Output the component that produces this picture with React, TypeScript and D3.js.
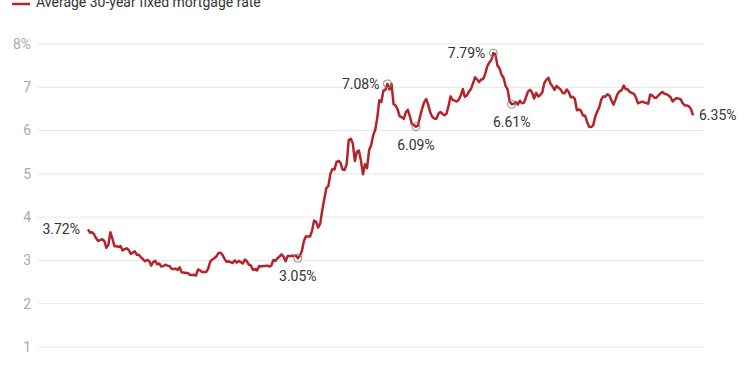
import React, { Component } from "react";
import * as d3 from "d3";

// weekly Freddie Mac averages, first reading Thursday Jan 2 2020
const startWeek = "2020-01-02";

const rates2020 = [
  3.72, 3.64, 3.65, 3.6, 3.51, 3.45, 3.47, 3.49, 3.45, 3.29, 3.36, 3.65, 3.5,
  3.33, 3.33, 3.31, 3.33, 3.23, 3.26, 3.28, 3.24, 3.15, 3.18, 3.21, 3.13, 3.13,
  3.07, 3.03, 2.98, 3.01, 2.99, 2.88, 2.96, 2.99, 2.91, 2.93, 2.86, 2.87, 2.9,
  2.88, 2.87, 2.81, 2.8, 2.81, 2.78, 2.84, 2.72, 2.72, 2.71, 2.71, 2.67, 2.66,
  2.67,
];
const rates2021 = [
  2.65, 2.79, 2.77, 2.73, 2.73, 2.73, 2.81, 2.97, 3.02, 3.05, 3.09, 3.17, 3.18,
  3.13, 3.04, 2.97, 2.98, 2.96, 2.94, 3.0, 2.95, 2.99, 2.96, 2.93, 3.02, 2.98,
  2.9, 2.88, 2.78, 2.8, 2.77, 2.87, 2.86, 2.87, 2.87, 2.88, 2.86, 2.88, 3.01,
  2.99, 3.05, 3.09, 3.14, 3.09, 2.98, 3.1, 3.1, 3.11, 3.1, 3.12, 3.05, 3.11,
];
const rates2022 = [
  3.22, 3.45, 3.56, 3.55, 3.55, 3.69, 3.92, 3.89, 3.76, 3.85, 4.16, 4.42, 4.67,
  4.72, 5.0, 5.11, 5.1, 5.27, 5.3, 5.25, 5.1, 5.09, 5.23, 5.78, 5.81, 5.7, 5.3,
  5.51, 5.54, 5.3, 4.99, 5.22, 5.13, 5.55, 5.66, 5.89, 6.02, 6.29, 6.7, 6.66,
  6.92, 6.94, 7.08, 6.95, 7.08, 6.61, 6.58, 6.49, 6.33, 6.31, 6.27, 6.42,
];
const rates2023 = [
  6.48, 6.33, 6.15, 6.13, 6.09, 6.12, 6.32, 6.5, 6.65, 6.73, 6.6, 6.42, 6.32,
  6.28, 6.27, 6.39, 6.43, 6.39, 6.35, 6.39, 6.57, 6.79, 6.71, 6.69, 6.67, 6.71,
  6.81, 6.96, 6.78, 6.81, 6.9, 6.96, 7.09, 7.23, 7.18, 7.12, 7.18, 7.19, 7.31,
  7.49, 7.57, 7.63, 7.79, 7.76, 7.5, 7.44, 7.29, 7.22, 7.03, 6.95, 6.67, 6.61,
];
const rates2024 = [
  6.62, 6.66, 6.6, 6.69, 6.63, 6.64, 6.77, 6.9, 6.94, 6.88, 6.74, 6.87, 6.79,
  6.82, 6.88, 7.1, 7.17, 7.22, 7.09, 7.02, 6.94, 7.03, 6.99, 6.95, 6.87, 6.86,
  6.95, 6.89, 6.77, 6.78, 6.73, 6.47, 6.49, 6.46, 6.35, 6.35, 6.2, 6.09, 6.08,
  6.12, 6.32, 6.44, 6.54, 6.72, 6.79, 6.78, 6.84, 6.81, 6.69, 6.6, 6.72, 6.85,
];
const rates2025 = [
  6.91, 6.93, 7.04, 6.96, 6.95, 6.89, 6.87, 6.85, 6.76, 6.63, 6.65, 6.67, 6.65,
  6.64, 6.62, 6.83, 6.81, 6.76, 6.76, 6.81, 6.86, 6.89, 6.85, 6.84, 6.81, 6.77,
  6.67, 6.72, 6.75, 6.74, 6.72, 6.63, 6.58, 6.58, 6.56, 6.5, 6.35,
];

const yTicks = [1, 2, 3, 4, 5, 6, 7, 8];
const legendLabel = "Average 30-year fixed mortgage rate";

// labelled points: week index, where the text goes, and whether it gets a ring
const callouts = [
  { week: 0, pos: "left", ring: false },
  { week: 103, pos: "below", ring: true },
  { week: 147, pos: "left", ring: true },
  { week: 161, pos: "below", ring: true },
  { week: 199, pos: "left", ring: true },
  { week: 208, pos: "below", ring: true },
  { week: 297, pos: "right", ring: false },
];

const lineColor = "#b3252b";
const font = "Roboto, 'Noto Sans', sans-serif";

class App extends Component {
  svgRef = React.createRef<SVGSVGElement>();

  componentDidMount() {
    this.renderChart();
  }

  componentDidUpdate() {
    this.renderChart();
  }

  renderChart() {
    const values = [
      ...rates2020,
      ...rates2021,
      ...rates2022,
      ...rates2023,
      ...rates2024,
      ...rates2025,
    ];
    const start = new Date(startWeek + "T00:00:00");
    const data = values.map((v, i) => ({
      date: d3.timeWeek.offset(start, i),
      rate: v,
    }));

    const w = 750,
      h = 375;
    const plot = { left: 88, right: 693, top: 44, bottom: 347 };

    const svg = d3.select(this.svgRef.current).attr("width", w).attr("height", h);
    svg.selectAll("*").remove();

    const xScale = d3
      .scaleTime()
      .domain(d3.extent(data, (d) => d.date) as [Date, Date])
      .range([plot.left, plot.right]);
    const yScale = d3.scaleLinear().domain([1, 8]).range([plot.bottom, plot.top]);

    // legend, half cut off at the top edge
    svg
      .append("line")
      .attr("x1", 12)
      .attr("x2", 30)
      .attr("y1", 4)
      .attr("y2", 4)
      .attr("stroke", lineColor)
      .attr("stroke-width", 2.5);
    svg
      .append("text")
      .attr("x", 36)
      .attr("y", 7)
      .attr("font-family", font)
      .attr("font-size", 14)
      .attr("fill", "#333")
      .text(legendLabel);

    // grid + y labels
    const grid = svg.append("g");
    grid
      .selectAll("line")
      .data(yTicks)
      .join("line")
      .attr("x1", 38)
      .attr("x2", 704)
      .attr("y1", (d) => yScale(d))
      .attr("y2", (d) => yScale(d))
      .attr("stroke", "#e6e6e6")
      .attr("stroke-width", 1);
    grid
      .selectAll("text")
      .data(yTicks)
      .join("text")
      .attr("x", 31)
      .attr("y", (d) => yScale(d))
      .attr("dy", "0.35em")
      .attr("text-anchor", "end")
      .attr("font-family", font)
      .attr("font-size", 14)
      .attr("fill", "#aaa")
      .text((d) => (d === 8 ? d + "%" : String(d)));

    const line = d3
      .line<{ date: Date; rate: number }>()
      .x((d) => xScale(d.date))
      .y((d) => yScale(d.rate));

    svg
      .append("path")
      .datum(data)
      .attr("d", line)
      .attr("fill", "none")
      .attr("stroke", lineColor)
      .attr("stroke-width", 2.5)
      .attr("stroke-linejoin", "round");

    const notes = svg.append("g");
    callouts.forEach((c) => {
      const d = data[c.week];
      const cx = xScale(d.date);
      const cy = yScale(d.rate);
      if (c.ring) {
        notes
          .append("circle")
          .attr("cx", cx)
          .attr("cy", cy)
          .attr("r", 4)
          .attr("fill", "none")
          .attr("stroke", "#8a8a8a")
          .attr("stroke-width", 1);
      }
      let tx = cx,
        ty = cy,
        anchor = "middle";
      if (c.pos === "left") {
        tx = cx - 8;
        anchor = "end";
      } else if (c.pos === "right") {
        tx = cx + 6;
        anchor = "start";
      } else {
        ty = cy + 18;
      }
      notes
        .append("text")
        .attr("x", tx)
        .attr("y", ty)
        .attr("dy", "0.35em")
        .attr("text-anchor", anchor)
        .attr("font-family", font)
        .attr("font-size", 14)
        .attr("fill", "#333")
        .text(d.rate.toFixed(2) + "%");
    });
  }

  render() {
    return (
      <svg
        ref={this.svgRef}
        style={{ position: "absolute", left: 0, top: 0, background: "#fff" }}
      ></svg>
    );
  }
}

export default App;
